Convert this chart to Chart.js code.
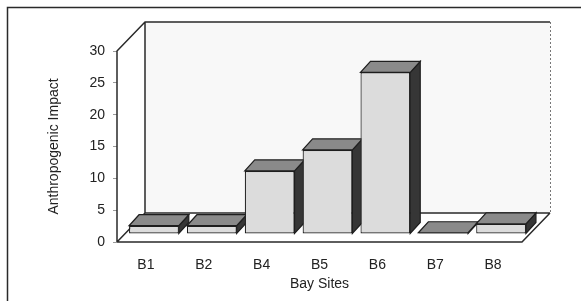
<!DOCTYPE html>
<html><head><meta charset="utf-8">
<script src="https://cdn.jsdelivr.net/npm/chart.js@4"></script>
<style>html,body{margin:0;padding:0;background:#fff}canvas{display:block}</style>
</head><body>
<canvas id="c" width="581" height="301"></canvas>
<script>
const categories = ['B1', 'B2', 'B4', 'B5', 'B6', 'B7', 'B8'];
const impactValues = [1.3, 1.3, 9.9, 13.2, 25.4, 0.2, 1.6];
const yTickMin = 0;
const yTickMax = 30;
const yTickStep = 5;

const WALL_DX = 28, WALL_DY = -29;     // depth of the 3D box
const BAR_SHIFT_X = 8, BAR_SHIFT_Y = -8; // bars sit a bit inside the floor
const BAR_DX = 10, BAR_DY = -11;       // bar depth

const frame3d = {
  id: 'frame3d',
  beforeDraw(chart) {
    const ctx = chart.ctx;
    ctx.save();
    ctx.fillStyle = '#fff';
    ctx.fillRect(0, 0, chart.width, chart.height);
    ctx.strokeStyle = '#2a2a2a';
    ctx.lineWidth = 1.5;
    ctx.strokeRect(7.5, 7.5, chart.width + 20, chart.height + 20);
    ctx.restore();
  },
  beforeDatasetsDraw(chart) {
    const ctx = chart.ctx;
    const a = chart.chartArea;
    const L = a.left, R = a.right, T = a.top, B = a.bottom;
    const dx = WALL_DX, dy = WALL_DY;
    ctx.save();
    ctx.fillStyle = '#f8f8f8';
    ctx.fillRect(L + dx, T + dy, R - L, B - T);
    ctx.fillStyle = '#fff';
    ctx.beginPath();
    ctx.moveTo(L, B); ctx.lineTo(R, B); ctx.lineTo(R + dx, B + dy); ctx.lineTo(L + dx, B + dy); ctx.closePath();
    ctx.fill();
    ctx.beginPath();
    ctx.moveTo(L, B); ctx.lineTo(L, T); ctx.lineTo(L + dx, T + dy); ctx.lineTo(L + dx, B + dy); ctx.closePath();
    ctx.fill();

    ctx.strokeStyle = '#2a2a2a';
    ctx.lineWidth = 1.5;
    ctx.lineJoin = 'round';
    ctx.beginPath();
    ctx.moveTo(L, B); ctx.lineTo(L, T); ctx.lineTo(L + dx, T + dy); ctx.lineTo(R + dx, T + dy);
    ctx.moveTo(L + dx, T + dy); ctx.lineTo(L + dx, B + dy); ctx.lineTo(R + dx, B + dy);
    ctx.moveTo(L, B); ctx.lineTo(R, B); ctx.lineTo(R + dx, B + dy);
    ctx.moveTo(L, B); ctx.lineTo(L + dx, B + dy);
    ctx.stroke();
    ctx.strokeStyle = '#777';
    ctx.lineWidth = 1;
    ctx.setLineDash([2, 2]);
    ctx.beginPath();
    ctx.moveTo(R + dx + 0.5, T + dy); ctx.lineTo(R + dx + 0.5, B + dy);
    ctx.stroke();
    ctx.restore();

    ctx.save();
    ctx.translate(BAR_SHIFT_X, BAR_SHIFT_Y);
    const meta = chart.getDatasetMeta(0);
    meta.data.forEach(bar => {
      const l = bar.x - bar.width / 2, r = bar.x + bar.width / 2;
      const t = Math.min(bar.y, bar.base), b = Math.max(bar.y, bar.base);
      ctx.lineWidth = 1.2;
      ctx.strokeStyle = '#1e1e1e';
      ctx.fillStyle = '#363636';
      ctx.beginPath();
      ctx.moveTo(r, t); ctx.lineTo(r + BAR_DX, t + BAR_DY); ctx.lineTo(r + BAR_DX, b + BAR_DY); ctx.lineTo(r, b); ctx.closePath();
      ctx.fill(); ctx.stroke();
      ctx.fillStyle = '#8a8a8a';
      ctx.beginPath();
      ctx.moveTo(l, t); ctx.lineTo(l + BAR_DX, t + BAR_DY); ctx.lineTo(r + BAR_DX, t + BAR_DY); ctx.lineTo(r, t); ctx.closePath();
      ctx.fill(); ctx.stroke();
    });
  },
  afterDatasetsDraw(chart) {
    chart.ctx.restore();
  }
};

Chart.defaults.font.family = '"Liberation Sans", Arial, sans-serif';
Chart.defaults.color = '#222';

new Chart(document.getElementById('c'), {
  type: 'bar',
  data: {
    labels: categories,
    datasets: [{
      data: impactValues,
      backgroundColor: '#dcdcdc',
      borderColor: '#1e1e1e',
      borderWidth: 1.2,
      borderSkipped: false,
      categoryPercentage: 1,
      barPercentage: 0.86
    }]
  },
  options: {
    responsive: false,
    animation: false,
    events: [],
    layout: { padding: { left: 0, top: 51, right: 59, bottom: 0 } },
    plugins: { legend: { display: false }, tooltip: { enabled: false } },
    scales: {
      x: {
        grid: { display: false },
        border: { display: false },
        ticks: { font: { size: 14 }, padding: 7, color: '#222' },
        title: { display: true, text: 'Bay Sites', font: { size: 14 }, padding: { top: 0, bottom: 8 }, color: '#222' },
        afterFit(s) { s.height = 59; }
      },
      y: {
        min: yTickMin, max: yTickMax,
        ticks: { stepSize: yTickStep, font: { size: 14 }, padding: 8, color: '#222' },
        grid: { drawOnChartArea: false, drawTicks: true, tickLength: 4, color: '#999', tickWidth: 1 },
        border: { display: false },
        title: { display: true, text: 'Anthropogenic Impact', font: { size: 14 }, padding: { top: 46, bottom: 0 }, color: '#222' },
        afterFit(s) { s.width = 117; }
      }
    }
  },
  plugins: [frame3d]
});
</script>
</body></html>
